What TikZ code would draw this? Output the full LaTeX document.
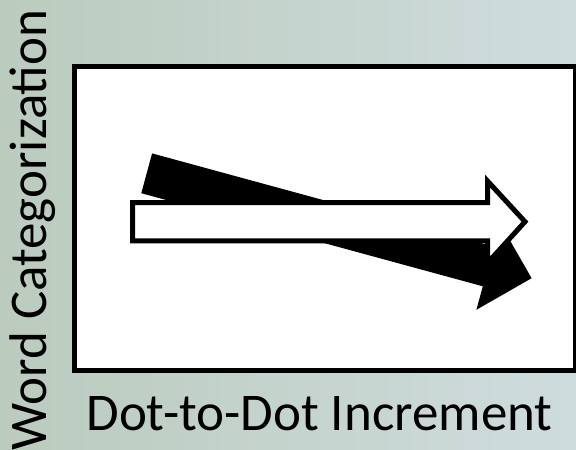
\documentclass[tikz,border=0pt]{standalone}
\usepackage{fontspec}
\setmainfont{Carlito}
\definecolor{bgleft}{RGB}{187,203,189}
\definecolor{bgright}{RGB}{207,220,222}
\tikzset{
  axislabel/.style={font=\fontsize{53}{60}\selectfont, text=black, inner sep=0pt},
  plotbox/.style={draw=black, fill=white, line width=4.5pt},
  blackarrow/.style={fill=black},
  whitearrow/.style={draw=black, fill=white, line width=5pt, line join=miter, miter limit=10}
}
\begin{document}
\begin{tikzpicture}[x=1pt,y=-1pt]
\useasboundingbox (0,0) rectangle (576,450);
\shade[left color=bgleft, right color=bgright] (0,0) rectangle (576,450);
% plot frame
\draw[plotbox] (74.5,66.5) rectangle (575.5,370.5);
% black arrow (descending)
\fill[blackarrow] (152.1,153.4) -- (493.6,246.5) -- (500.0,223.0) -- (531.6,278.2)
  -- (476.4,309.8) -- (482.8,286.3) -- (141.3,193.2) -- cycle;
% white arrow (flat)
\draw[whitearrow] (132.5,202.5) -- (487.5,202.5) -- (487.5,181) -- (525,221.7)
  -- (487.5,263) -- (487.5,240.8) -- (132.5,240.8) -- cycle;
% labels
\node[axislabel, anchor=base] (xlab) at (319.5,430) {Dot-to-Dot Increment};
\node[axislabel, anchor=base, rotate=90] (ylab) at (46.5,230) {Word Categorization};
\end{tikzpicture}
\end{document}
